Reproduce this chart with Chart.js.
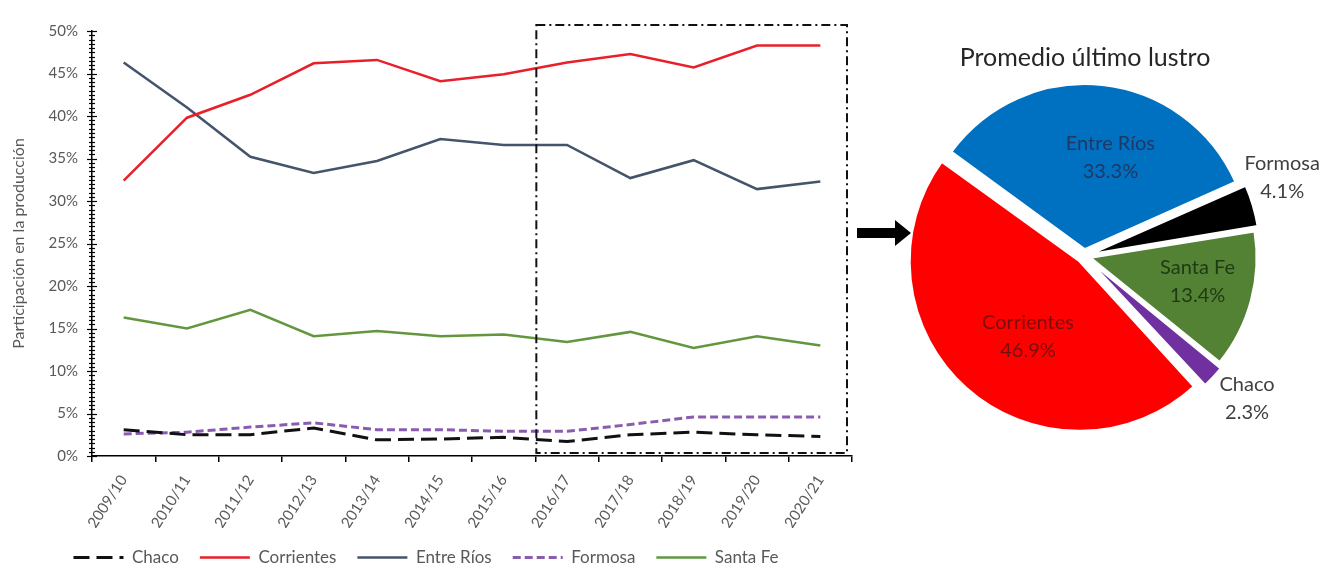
<!DOCTYPE html>
<html>
<head>
<meta charset="utf-8">
<script src="https://cdn.jsdelivr.net/npm/chart.js@4.4.1/dist/chart.umd.min.js"></script>
<style>
  body { margin: 0; background: #fff; width: 1335px; height: 569px; position: relative; overflow: hidden; }
  #lineChart { position: absolute; left: 0; top: 0; }
  #pieChart { position: absolute; left: 850px; top: 0; }
</style>
</head>
<body>
<canvas id="lineChart" width="860" height="576"></canvas>
<canvas id="pieChart" width="485" height="569"></canvas>
<script>
// data block
const campaigns = ['2009/10', '2010/11', '2011/12', '2012/13', '2013/14', '2014/15',
                   '2015/16', '2016/17', '2017/18', '2018/19', '2019/20', '2020/21'];
const chaco      = [3.1, 2.5, 2.5, 3.3, 1.9, 2.0, 2.2, 1.7, 2.5, 2.8, 2.5, 2.3];
const corrientes = [32.4, 39.8, 42.5, 46.2, 46.6, 44.1, 44.9, 46.3, 47.3, 45.7, 48.3, 48.3];
const entreRios  = [46.3, 41.0, 35.2, 33.3, 34.7, 37.3, 36.6, 36.6, 32.7, 34.8, 31.4, 32.3];
const formosa    = [2.6, 2.8, 3.4, 3.9, 3.1, 3.1, 2.9, 2.9, 3.7, 4.6, 4.6, 4.6];
const santaFe    = [16.3, 15.0, 17.2, 14.1, 14.7, 14.1, 14.3, 13.4, 14.6, 12.7, 14.1, 13.0];
const yTicks     = [0, 5, 10, 15, 20, 25, 30, 35, 40, 45, 50];

const pieLabels = ['Chaco', 'Corrientes', 'Entre Ríos', 'Formosa', 'Santa Fe'];
const pieValues = [2.3, 46.9, 33.3, 4.1, 13.4];

const FONT = 'Lato, "Open Sans", sans-serif';
const GREY = '#595959';

//line chart plugins
const minorTicks = {
    id: 'minorTicks',
    afterDraw(chart) {
        const y = chart.scales.y, ctx = chart.ctx, x0 = y.right;
        ctx.save();
        ctx.strokeStyle = '#000';
        ctx.lineWidth = 1.2;
        for (let v = 0; v <= 50; v += 0.5) {
            const py = Math.round(y.getPixelForValue(v)) + 0.5;
            const len = yTicks.includes(v) ? 5 : 3;
            ctx.beginPath();
            ctx.moveTo(x0 - len, py);
            ctx.lineTo(x0 + len, py);
            ctx.stroke();
        }
        ctx.restore();
    }
};

const lustroBox = {
    id: 'lustroBox',
    afterDraw(chart) {
        const {x, y} = chart.scales, ctx = chart.ctx;
        const left = x.getPixelForValue(6.5) + 1;
        const right = x.right - 5;
        const top = chart.chartArea.top - 6;
        const bottom = y.getPixelForValue(0) - 3;
        ctx.save();
        ctx.strokeStyle = '#111';
        ctx.lineWidth = 2;
        ctx.setLineDash([9, 4, 2, 4]);
        ctx.strokeRect(left, top, right - left, bottom - top);
        ctx.restore();
    }
};

// legend items taken from the dataset line styles
function lineLegendItems(chart) {
    return chart.data.datasets.map((ds, i) => ({
        text: ds.label,
        datasetIndex: i,
        strokeStyle: ds.borderColor,
        fillStyle: ds.borderColor,
        lineWidth: ds.borderWidth,
        lineDash: ds.borderDash || [],
        pointStyle: 'line',
        fontColor: GREY,
        hidden: false
    }));
}

const lineData = {
    labels: campaigns,
    datasets: [
        {label: 'Chaco', data: chaco, borderColor: '#111111', borderWidth: 3, borderDash: [16, 7]},
        {label: 'Corrientes', data: corrientes, borderColor: '#e8202a', borderWidth: 2.5},
        {label: 'Entre Ríos', data: entreRios, borderColor: '#44546a', borderWidth: 2.5},
        {label: 'Formosa', data: formosa, borderColor: '#8a5cb0', borderWidth: 3, borderDash: [8, 4]},
        {label: 'Santa Fe', data: santaFe, borderColor: '#62973f', borderWidth: 2.5}
    ]
};

const lineOptions = {
    responsive: false,
    animation: false,
    layout: {padding: {left: 0, right: 8, top: 31, bottom: 0}},
    elements: {point: {radius: 0}, line: {tension: 0}},
    plugins: {
        tooltip: {enabled: false},
        legend: {
            position: 'bottom',
            labels: {
                usePointStyle: true,
                pointStyle: 'line',
                pointStyleWidth: 50,
                padding: 21,
                color: GREY,
                font: {family: FONT, size: 17},
                generateLabels: lineLegendItems
            }
        }
    },
    scales: {
        x: {
            offset: true,
            grid: {display: true, drawOnChartArea: false, offset: true, tickLength: 6, color: '#000', lineWidth: 1.5},
            border: {color: '#000', width: 1.5},
            ticks: {color: GREY, font: {family: FONT, size: 15}, minRotation: 57, maxRotation: 57, padding: 10},
            afterFit(scale) { scale.height = 72; }
        },
        y: {
            min: 0,
            max: 50,
            grid: {display: false, drawTicks: false},
            border: {color: '#000', width: 1.5},
            ticks: {
                stepSize: 5,
                padding: 14,
                color: GREY,
                font: {family: FONT, size: 15},
                callback: v => v + '%'
            },
            title: {display: true, text: 'Participación en la producción', color: GREY,
                    font: {family: FONT, size: 16}, padding: {top: 9, bottom: 0}},
            afterFit(scale) { scale.width = 92; }
        }
    }
};

new Chart(document.getElementById('lineChart'), {
    type: 'line',
    data: lineData,
    options: lineOptions,
    plugins: [minorTicks, lustroBox]
});

//pie chart
const pieText = {
    id: 'pieText',
    afterDraw(chart, args, opts) {
        const ctx = chart.ctx;
        const arcs = chart.getDatasetMeta(0).data;
        ctx.save();
        ctx.textAlign = 'center';
        ctx.textBaseline = 'middle';
        ctx.fillStyle = '#262626';
        ctx.font = '25px ' + FONT;
        ctx.fillText('Promedio último lustro', 235, 58);

        arcs.forEach((arc, i) => {
            const p = arc.getProps(['x', 'y', 'startAngle', 'endAngle', 'outerRadius'], true);
            const place = opts.place[i];
            const a = (p.startAngle + p.endAngle) / 2 + place.shift * Math.PI / 180;
            const r = p.outerRadius * place.dist;
            const cx = p.x + Math.cos(a) * r, cy = p.y + Math.sin(a) * r;
            ctx.fillStyle = place.color;
            ctx.font = '20px ' + FONT;
            ctx.fillText(pieLabels[i], cx, cy - 14);
            ctx.fillText(pieValues[i].toFixed(1) + '%', cx, cy + 14);
        });

        // arrow pointing at the pie
        ctx.fillStyle = '#000';
        ctx.beginPath();
        ctx.moveTo(7, 228);
        ctx.lineTo(45, 228);
        ctx.lineTo(45, 220);
        ctx.lineTo(61, 233);
        ctx.lineTo(45, 246);
        ctx.lineTo(45, 238);
        ctx.lineTo(7, 238);
        ctx.closePath();
        ctx.fill();
        ctx.restore();
    }
};

new Chart(document.getElementById('pieChart'), {
    type: 'pie',
    data: {
        labels: pieLabels,
        datasets: [{
            data: pieValues,
            backgroundColor: ['#7030a0', '#ff0000', '#0070c0', '#000000', '#548235'],
            borderColor: '#ffffff',
            borderWidth: 2,
            offset: 28,
            hoverOffset: 0
        }]
    },
    options: {
        responsive: false,
        animation: false,
        rotation: 129,
        layout: {padding: {left: 55, right: 72, top: 77, bottom: 134}},
        plugins: {
            legend: {display: false},
            tooltip: {enabled: false},
            pieText: {
                place: [
                    {shift: -2, dist: 1.32, color: '#404040'},
                    {shift: -7, dist: 0.60, color: '#7a0c0c'},
                    {shift: 9, dist: 0.62, color: '#1f3864'},
                    {shift: -5, dist: 1.30, color: '#404040'},
                    {shift: -2, dist: 0.71, color: '#1e3a12'}
                ]
            }
        }
    },
    plugins: [pieText]
});
</script>
</body>
</html>
